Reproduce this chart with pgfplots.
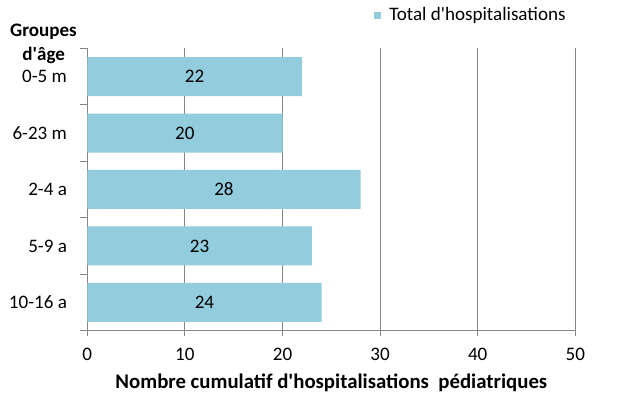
\documentclass[border=0pt]{standalone}
\usepackage{fontspec}
\setmainfont{Carlito}
\usepackage{pgfplots}
\pgfplotsset{compat=1.18}
\definecolor{barc}{HTML}{93CDDD}
\definecolor{gridc}{HTML}{868686}
\newcommand{\fnt}{\fontsize{14.3pt}{17pt}\selectfont}
\newcommand{\q}{\textquotesingle}
\begin{document}
\begin{tikzpicture}[x=0.75pt,y=0.75pt,font=\fnt]
\useasboundingbox (0,0) rectangle (627,398);
\begin{axis}[
  at={(65.475pt,50.475pt)}, anchor=south west,
  scale only axis, width=366pt, height=211.8pt,
  /pgf/number format/assume math mode=true,
  xmin=0, xmax=50, ymin=-0.5, ymax=4.5,
  xtick={0,10,...,50},
  ytick={0,1,2,3,4},
  yticklabels={10-16 a,5-9 a,2-4 a,6-23 m,0-5 m},
  minor ytick={-0.5,0.5,1.5,2.5,3.5,4.5},
  tick align=outside,
  major tick length=3.75pt,
  minor tick length=5.25pt,
  major y tick style={draw=none},
  tick style={gridc, line width=0.75pt},
  axis x line*=bottom, axis y line*=left,
  axis line style={gridc, line width=0.75pt},
  xmajorgrids, grid style={gridc, line width=0.75pt},
  xticklabel style={text=black, font=\fnt, yshift=-6pt},
  yticklabel style={text=black, font=\fnt, xshift=-8pt},
  xlabel={Nombre cumulatif d\q hospitalisations\ \ pédiatriques},
  xlabel style={at={(axis description cs:0.5,-0.185)}, anchor=center,
    font=\fontsize{15.6pt}{18pt}\selectfont\bfseries},
  legend style={draw=none, fill=none, at={(0.5875,1.117)}, anchor=west,
    inner sep=0pt, legend cell align=left, font=\fnt,
    nodes={inner xsep=6pt}},
  legend image code/.code={\fill[barc] (0pt,-2.6pt) rectangle (5.25pt,2.6pt);},
]
\addplot[xbar, bar width=29.25pt, bar shift=0pt, fill=barc, draw=none]
  coordinates {(24,0) (23,1) (28,2) (20,3) (22,4)};
\addlegendentry{Total d\q hospitalisations}
\addplot[xbar, bar width=29.25pt, bar shift=0pt, draw=none, fill=none,
  nodes near coords, point meta=explicit,
  nodes near coords style={anchor=center, text=black, font=\fnt}, forget plot]
  coordinates {(12,0) [24] (11.5,1) [23] (14,2) [28] (10,3) [20] (11,4) [22]};
\end{axis}
\node[anchor=base, font=\fnt\bfseries] at (43.5,361.3) {Groupes};
\node[anchor=base, font=\fnt\bfseries] at (43.7,337) {d\q âge};
\end{tikzpicture}
\end{document}
